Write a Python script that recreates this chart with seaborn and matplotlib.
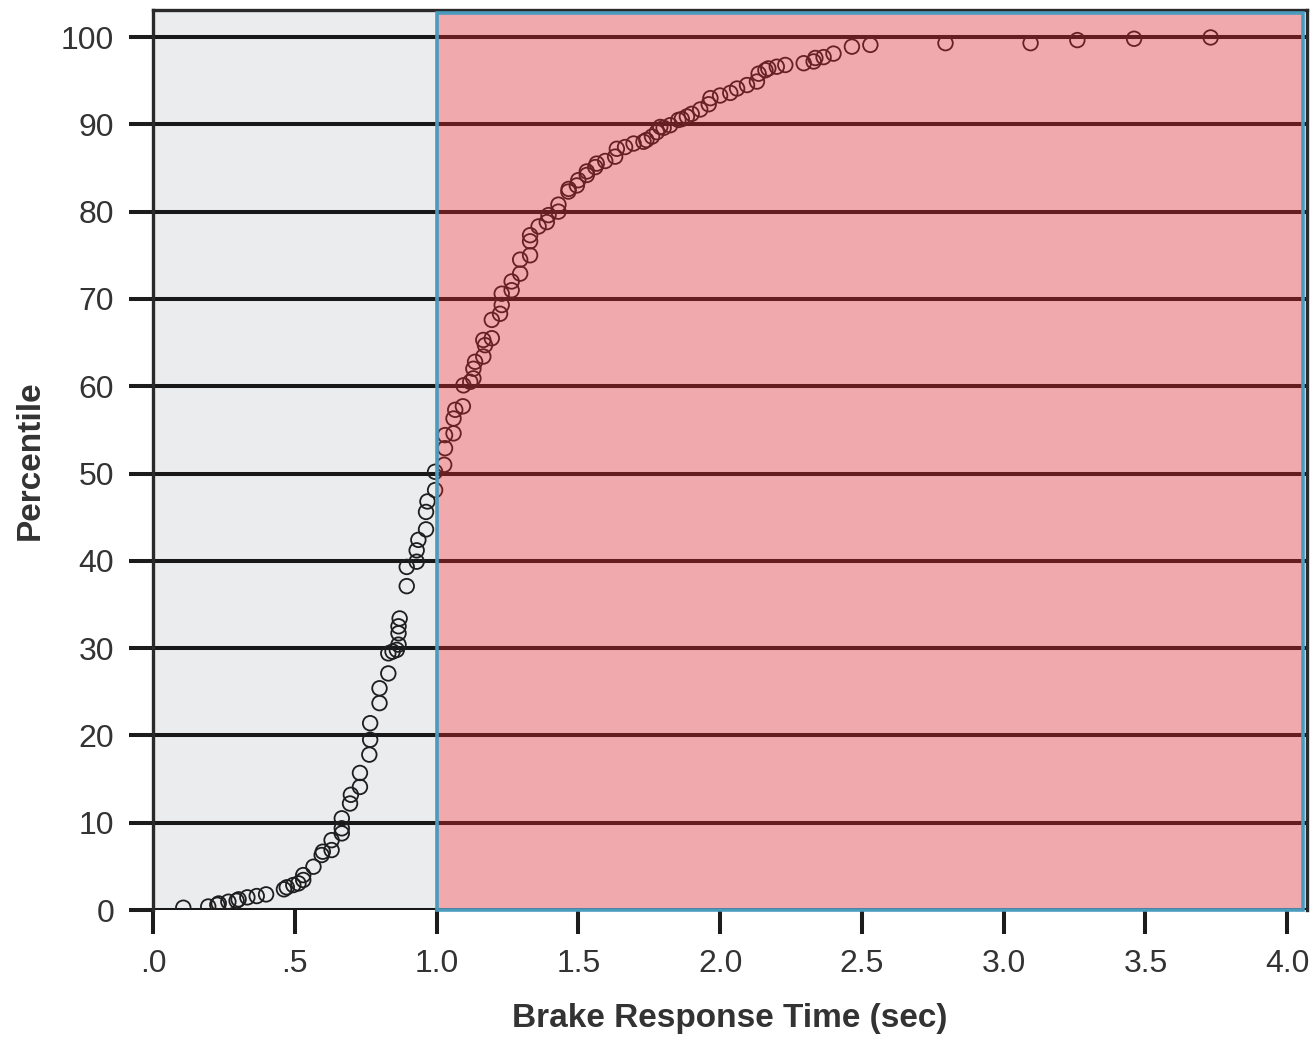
import matplotlib
matplotlib.use("Agg")
import matplotlib.pyplot as plt
import seaborn as sns
import pandas as pd
from matplotlib.patches import Rectangle

# brake response time (sec) vs percentile
response_time = [
    0.107, 0.195, 0.227, 0.232, 0.266, 0.295, 0.302, 0.333, 0.366, 0.399,
    0.462, 0.472, 0.495, 0.513, 0.530, 0.530, 0.566, 0.595, 0.599, 0.630,
    0.630, 0.666, 0.666, 0.666, 0.695, 0.698, 0.730, 0.730, 0.763, 0.766,
    0.766, 0.799, 0.799, 0.830, 0.830, 0.845, 0.860, 0.866, 0.866, 0.866,
    0.870, 0.895, 0.895, 0.930, 0.930, 0.936, 0.963, 0.963, 0.968, 0.995,
    0.995, 1.027, 1.030, 1.030, 1.060, 1.060, 1.066, 1.093, 1.095, 1.119,
    1.130, 1.130, 1.136, 1.165, 1.171, 1.165, 1.195, 1.195, 1.224, 1.230,
    1.230, 1.265, 1.265, 1.295, 1.295, 1.330, 1.330, 1.330, 1.360, 1.389,
    1.395, 1.430, 1.430, 1.465, 1.466, 1.495, 1.500, 1.530, 1.530, 1.560,
    1.565, 1.595, 1.630, 1.636, 1.665, 1.695, 1.730, 1.740, 1.760, 1.777,
    1.789, 1.801, 1.824, 1.853, 1.865, 1.883, 1.900, 1.930, 1.960, 1.966,
    2.000, 2.036, 2.060, 2.095, 2.130, 2.136, 2.160, 2.170, 2.200, 2.230,
    2.295, 2.330, 2.336, 2.365, 2.400, 2.465, 2.530, 2.795, 3.095, 3.260,
    3.460, 3.730,
]
percentile = [
    0.26, 0.40, 0.60, 0.75, 0.95, 1.06, 1.22, 1.45, 1.60, 1.79,
    2.37, 2.60, 2.86, 3.05, 3.44, 4.00, 4.96, 6.30, 6.68, 6.87,
    8.00, 8.78, 9.36, 10.5, 12.2, 13.2, 14.1, 15.7, 17.8, 19.5,
    21.4, 23.7, 25.4, 27.1, 29.4, 29.6, 29.8, 30.4, 31.7, 32.5,
    33.4, 37.1, 39.3, 39.9, 41.2, 42.4, 43.6, 45.6, 46.8, 48.1,
    50.2, 51.0, 52.9, 54.4, 54.6, 56.3, 57.3, 57.7, 60.1, 60.5,
    60.9, 62.0, 62.8, 63.4, 64.7, 65.3, 65.5, 67.6, 68.3, 69.3,
    70.6, 71.0, 72.0, 72.9, 74.5, 75.0, 76.6, 77.3, 78.3, 78.8,
    79.6, 80.0, 80.8, 82.3, 82.6, 83.0, 83.6, 84.2, 84.6, 85.1,
    85.5, 85.8, 86.3, 87.2, 87.4, 87.8, 88.0, 88.2, 88.6, 89.1,
    89.7, 89.6, 89.9, 90.5, 90.6, 90.9, 91.2, 91.7, 92.3, 93.0,
    93.3, 93.6, 94.1, 94.5, 94.9, 95.8, 96.2, 96.4, 96.6, 96.8,
    97.0, 97.2, 97.6, 97.7, 98.1, 98.9, 99.1, 99.3, 99.3, 99.65,
    99.8, 99.95,
]

x_ticks = [0.0, 0.5, 1.0, 1.5, 2.0, 2.5, 3.0, 3.5, 4.0]
x_tick_labels = [".0", ".5", "1.0", "1.5", "2.0", "2.5", "3.0", "3.5", "4.0"]
y_ticks = [0, 10, 20, 30, 40, 50, 60, 70, 80, 90, 100]

# region of slow responses, from 1.0 sec up
slow_start = 1.0

df = pd.DataFrame({"time": response_time, "pct": percentile})

sns.set_theme(style="ticks")
plt.rcParams["font.family"] = ["Liberation Sans", "DejaVu Sans"]

fig = plt.figure(figsize=(13.14, 10.38), dpi=100)
ax = fig.add_axes([0.1164, 0.1233, 0.8783, 0.8671])
ax.set_facecolor("#EBECEE")

sns.scatterplot(data=df, x="time", y="pct", ax=ax, marker="o", s=110,
                facecolors="none", edgecolor="#1e1e1e", linewidth=1.3, zorder=2)
ax.collections[0].set_facecolor("none")

ax.set_xlim(0, 4.07)
ax.set_ylim(0, 103.1)
ax.set_xticks(x_ticks)
ax.set_xticklabels(x_tick_labels)
ax.set_yticks(y_ticks)

ax.grid(axis="y", color="#181818", linewidth=2.9)
ax.grid(axis="x", visible=False)
ax.set_axisbelow(True)

ax.tick_params(axis="both", direction="out", length=17, width=2.9,
               color="#1c1c1c", labelsize=23, labelcolor="#333333", pad=11)

for side in ["left", "top", "right"]:
    ax.spines[side].set_color("#2a2a2a")
    ax.spines[side].set_linewidth(2.4)
ax.spines["bottom"].set_visible(False)

ymin, ymax = ax.get_ylim()
xmin, xmax = ax.get_xlim()
ax.add_patch(Rectangle((slow_start, 0), xmax - slow_start - 0.015, ymax - 0.35,
                       facecolor=(250 / 255, 40 / 255, 45 / 255, 0.34),
                       edgecolor="#4A9CBF", linewidth=2.6, zorder=4,
                       clip_on=False))

ax.set_xlabel("Brake Response Time (sec)", fontsize=24, fontweight="bold",
              color="#333333", labelpad=17)
ax.set_ylabel("Percentile", fontsize=24, fontweight="bold",
              color="#333333", labelpad=11)

fig.savefig("out.png", dpi=100)
